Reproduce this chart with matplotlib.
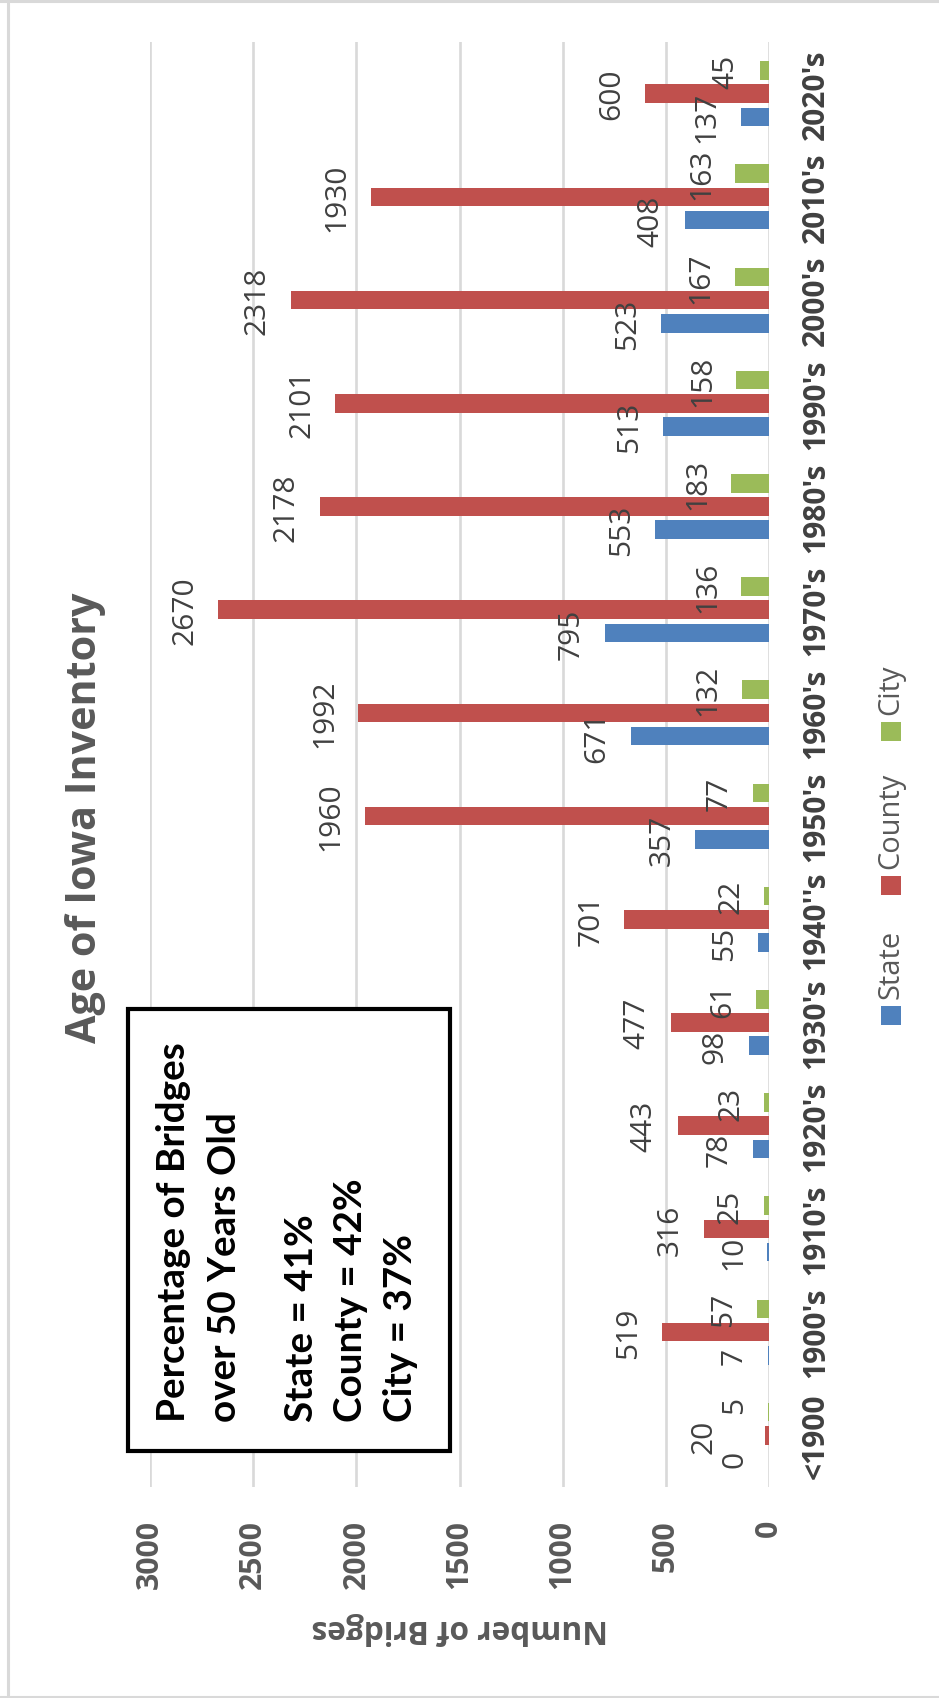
import matplotlib
matplotlib.use("Agg")
import matplotlib.pyplot as plt
from matplotlib.patches import Rectangle
from matplotlib.lines import Line2D
import numpy as np

# ---------------- data ----------------
categories = ["<1900", "1900's", "1910's", "1920's", "1930's", "1940''s", "1950's",
              "1960's", "1970's", "1980's", "1990's", "2000's", "2010's", "2020's"]
state = [0, 7, 10, 78, 98, 55, 357, 671, 795, 553, 513, 523, 408, 137]
county = [20, 519, 316, 443, 477, 701, 1960, 1992, 2670, 2178, 2101, 2318, 1930, 600]
city = [5, 57, 25, 23, 61, 22, 77, 132, 136, 183, 158, 167, 163, 45]
series_names = ["State", "County", "City"]
value_ticks = [0, 500, 1000, 1500, 2000, 2500, 3000]
title_text = "Age of Iowa Inventory"
axis_label = "Number of Bridges"
note_lines = ["Percentage of Bridges", "over 50 Years Old",
              "State = 41%", "County = 42%", "City = 37%"]

# ---------------- styles ----------------
colors = ["#4F81BD", "#C0504D", "#9BBB59"]
FAM = ["Open Sans", "DejaVu Sans"]
BOXFAM = ["Lato", "Open Sans", "DejaVu Sans"]
GRID = "#d9d9d9"
TXT = "#595959"
DARK = "#404040"
# label nudges (pixels) to avoid overlap, as in the reference: (series index, category index)
label_nudge = {(1, 0): (-27, 0), (2, 0): (0, 8)}

W, H, DPI = 939, 1699, 100
fig = plt.figure(figsize=(W / DPI, H / DPI), dpi=DPI)
fig.patch.set_facecolor("white")


def fx(px):
    return px / W


def fy(py):
    return 1 - py / H


renderer = fig.canvas.get_renderer()


def size_for(s, target, weight="normal", family=FAM, base=20.0):
    t = fig.text(0, 0, s, fontsize=base, fontweight=weight, family=family)
    w = t.get_window_extent(renderer).width
    t.remove()
    return base * target / w


fs_data = size_for("553", 51)
fs_tick = size_for("2000", 69, "bold")
fs_cat = size_for("2020's", 90, "bold")
fs_leg = size_for("County", 96)
fs_title = size_for(title_text, 450, "bold")
fs_axlab = size_for(axis_label, 297, "bold")
fs_box = size_for(note_lines[0], 380, "bold", BOXFAM)

# ---------------- axes ----------------
ax = fig.add_axes([fx(150), fy(1488), fx(769) - fx(150), fy(43) - fy(1488)])
ax.set_facecolor("white")
y = np.arange(len(categories))
offsets = [-0.225, 0.0, 0.225]
bar_h = 0.18
all_series = [state, county, city]

for si, (vals, off, col) in enumerate(zip(all_series, offsets, colors)):
    ax.barh(y + off, vals, height=bar_h, color=col, zorder=3)
    for ci, (yi, v) in enumerate(zip(y, vals)):
        nx, ny = label_nudge.get((si, ci), (0, 0))
        ax.annotate(str(v), xy=(v, yi + off), xytext=(-26 + nx, ny),
                    textcoords="offset pixels", rotation=90,
                    rotation_mode="anchor", ha="center", va="baseline",
                    fontsize=fs_data, color=DARK, family=FAM, zorder=4)

ax.set_xlim(3000, 0)
ax.set_ylim(-0.5, len(categories) - 0.5)
ax.set_xticks(value_ticks)
ax.set_xticklabels([str(v) for v in value_ticks], rotation=90,
                   fontsize=fs_tick, fontweight="bold", color=TXT, family=FAM)
ax.xaxis.grid(True, color=GRID, linewidth=1.9, zorder=0)
ax.set_axisbelow(True)
ax.tick_params(axis="x", length=0, pad=23)

ax.yaxis.tick_right()
ax.set_yticks(y)
ax.set_yticklabels(categories, rotation=90, va="center", ha="left",
                   fontsize=fs_cat, fontweight="bold", color=DARK, family=FAM)
ax.tick_params(axis="y", length=0, pad=23)
for sp in ax.spines.values():
    sp.set_visible(False)

# axis label (upside down, as in the reference)
ax.set_xlabel(axis_label, rotation=180, fontsize=fs_axlab, fontweight="bold",
              color=TXT, family=FAM, rotation_mode="anchor", ha="center", va="baseline")
ax.xaxis.set_label_coords(0.5, (1488 - 1620) / (1488 - 43))

# ---------------- title ----------------
fig.text(fx(96), fy(818), title_text, rotation=90, rotation_mode="anchor",
         ha="center", va="baseline", fontsize=fs_title, fontweight="bold",
         color=TXT, family=FAM)

# ---------------- legend (vertical, rotated) ----------------
leg_marker_top = [1007, 877, 723]
for name, col, top in zip(series_names, colors, leg_marker_top):
    fig.add_artist(Rectangle((fx(881), fy(top + 19)), fx(901) - fx(881),
                             fy(top) - fy(top + 19), transform=fig.transFigure,
                             facecolor=col, edgecolor="none"))
    fig.text(fx(898), fy(top - 8), name, rotation=90, rotation_mode="anchor",
             ha="left", va="baseline", fontsize=fs_leg, color=TXT, family=FAM)

# ---------------- note box ----------------
fig.add_artist(Rectangle((fx(128), fy(1452)), fx(450) - fx(128), fy(1010) - fy(1452),
                         transform=fig.transFigure, facecolor="white",
                         edgecolor="black", linewidth=3.0, zorder=5))
baselines = [185, 236, 313, 362, 412]
for line, bx in zip(note_lines, baselines):
    fig.text(fx(bx), fy(1422), line, rotation=90, rotation_mode="anchor",
             ha="left", va="baseline", fontsize=fs_box, fontweight="bold",
             color="black", family=BOXFAM, zorder=6)

# ---------------- outer frame ----------------
for xs, ys in [([0, 1], [fy(1.5), fy(1.5)]),
               ([fx(7.5), fx(7.5)], [0, 1]),
               ([0, 1], [fy(1697.5), fy(1697.5)])]:
    fig.add_artist(Line2D(xs, ys, transform=fig.transFigure, color=GRID, linewidth=2.2))

fig.savefig("out.png", dpi=DPI, facecolor="white")
